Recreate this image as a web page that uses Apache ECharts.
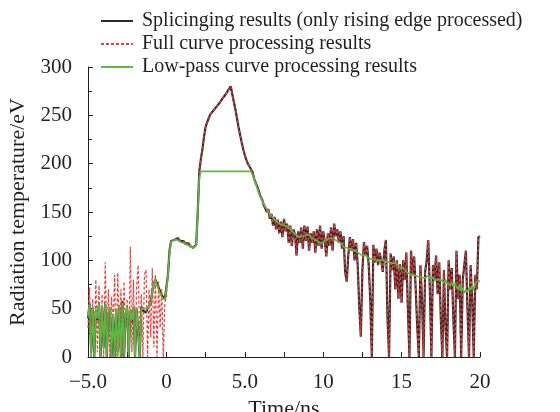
<!DOCTYPE html>
<html>
<head>
<meta charset="utf-8">
<script src="https://cdn.jsdelivr.net/npm/echarts@6/dist/echarts.min.js"></script>
<style>
  html, body { margin: 0; padding: 0; background: #fff; }
  #chart { width: 560px; height: 412px; }
</style>
</head>
<body>
<div id="chart"></div>
<script>
// sample grid: every 0.1 ns from -5.0 ns
var tStart = -5.0;
var tStep = 0.1;

var seriesNames = [
    'Splicinging results (only rising edge processed)',
    'Full curve processing results',
    'Low-pass curve processing results'
];

// splicing result, -5.0 .. -0.1
var blackPre = [
    40, 55, 5, 50, 0, 48, 38, 55, 0, 52,
    10, 55, 0, 45, 50, 0, 42, 0, 48, 5,
    52, 0, 58, 0, 45, 50, 0, 48, 35, 52,
    0, 50, 48, 0, 52, 48, 50, 46, 50, 52,
    56, 68, 76, 80, 76, 72, 68, 64, 62, 60
];
// 0.0 .. 5.5 (rising edge and peak)
var blackRise = [
    62, 85, 110, 120, 122, 121, 119, 123, 121, 120,
    118, 120, 117, 116, 118, 115, 114, 113, 114, 116,
    150, 192, 205, 215, 228, 238, 243, 247, 251, 253,
    255, 257, 259, 261, 263, 265, 268, 270, 272, 275,
    277, 280, 272, 264, 256, 247, 238, 230, 222, 215,
    209, 204, 200, 197, 194, 191
];
// 5.6 .. 20.0
var blackTail = [
    184, 180, 176, 171, 166, 163, 158, 156, 150, 153,
    143, 148, 136, 145, 132, 142, 128, 140, 124, 143,
    130, 138, 118, 136, 115, 132, 127, 105, 130, 118,
    134, 112, 136, 120, 135, 110, 128, 118, 130, 108,
    132, 115, 136, 112, 130, 120, 104, 128, 115, 134,
    110, 138, 125, 132, 118, 130, 112, 125, 88, 78,
    105, 124, 110, 122, 100, 118, 95, 52, 21, 90,
    119, 105, 115, 96, 60, 0, 116, 98, 112, 95,
    108, 100, 88, 110, 121, 40, 0, 107, 90, 104,
    70, 100, 60, 96, 56, 100, 80, 108, 50, 0,
    110, 85, 104, 70, 30, 0, 95, 60, 0, 88,
    100, 121, 70, 0, 95, 80, 105, 65, 98, 40,
    0, 90, 30, 0, 100, 70, 92, 40, 0, 110,
    60, 85, 0, 80, 95, 110, 50, 0, 95, 60,
    0, 85, 70, 124, 125
];

// full curve result before 0 ns; after that it follows the splicing result
var redPre = [
    30, 72, 0, 60, 10, 80, 5, 74, 20, 65,
    0, 98, 15, 70, 0, 62, 30, 85, 0, 87,
    10, 70, 0, 78, 25, 60, 0, 114, 5, 80,
    0, 72, 95, 10, 65, 0, 85, 90, 0, 70,
    20, 92, 10, 85, 0, 78, 30, 70, 0, 55
];

// low-pass result, -5.0 .. -0.1
var greenPre = [
    42, 55, 0, 52, 0, 50, 40, 56, 0, 54,
    8, 55, 0, 48, 52, 0, 45, 0, 50, 0,
    54, 0, 56, 0, 46, 52, 0, 50, 38, 52,
    0, 50, 49, 0, 50, 48, 50, 48, 50, 52,
    56, 68, 76, 80, 74, 70, 66, 62, 60, 59
];
// 0.0 .. 5.4
var greenMid = [
    60, 84, 108, 119, 121, 121, 120, 121, 120, 119,
    118, 118, 117, 116, 116, 115, 114, 113, 113, 115,
    150, 185, 192, 192, 192, 192, 192, 192, 192, 192,
    192, 192, 192, 192, 192, 192, 192, 192, 192, 192,
    192, 192, 192, 192, 192, 192, 192, 192, 192, 192,
    192, 192, 192, 192, 192
];
// 5.5 .. 20.0
var greenTail = [
    190, 184, 179, 174, 169, 165, 162, 159, 156, 153,
    150, 148, 146, 144, 142, 140, 139, 138, 137, 137,
    136, 135, 135, 134, 132, 130, 129, 128, 126, 125,
    124, 124, 125, 126, 126, 126, 126, 125, 123, 122,
    121, 120, 119, 118, 118, 119, 120, 121, 122, 123,
    123, 123, 122, 121, 120, 119, 118, 116, 114, 113,
    113, 112, 112, 111, 111, 110, 109, 108, 107, 106,
    105, 104, 106, 103, 104, 102, 103, 101, 102, 100,
    101, 100, 99, 100, 99, 98, 100, 98, 99, 97,
    96, 97, 95, 94, 93, 92, 90, 91, 88, 89,
    86, 88, 85, 86, 84, 85, 83, 84, 82, 83,
    82, 80, 84, 81, 80, 82, 79, 81, 80, 78,
    80, 79, 77, 80, 76, 78, 74, 77, 73, 76,
    74, 70, 75, 68, 72, 66, 70, 67, 72, 69,
    74, 70, 76, 74, 79, 78
];

var xTicks = { min: -5, max: 20, interval: 5 };
var yTicks = { min: 0, max: 300, interval: 50 };

var blackValues = blackPre.concat(blackRise, blackTail);
var redValues = redPre.concat(blackRise, blackTail);
var greenValues = greenPre.concat(greenMid, greenTail);

function toPoints(values) {
    return values.map(function (v, i) {
        return [+(tStart + i * tStep).toFixed(1), v];
    });
}

var font = '"Liberation Serif", "Times New Roman", serif';
var ink = '#231f20';

var chart = echarts.init(document.getElementById('chart'), null, { renderer: 'canvas' });

var option = {
    animation: false,
    backgroundColor: '#fff',
    textStyle: { fontFamily: font, color: ink },
    legend: {
        orient: 'vertical',
        left: 95,
        top: 6,
        itemWidth: 32,
        itemHeight: 14,
        itemGap: 3,
        data: seriesNames,
        itemStyle: { opacity: 0 },
        textStyle: { fontFamily: font, fontSize: 20, color: ink, lineHeight: 20, padding: [0, 0, 0, 4] }
    },
    grid: { left: 88, right: 80, top: 67, bottom: 55, outerBoundsMode: 'none' },
    xAxis: {
        type: 'value',
        min: xTicks.min,
        max: xTicks.max,
        interval: xTicks.interval,
        name: 'Time/ns',
        nameLocation: 'middle',
        nameGap: 40,
        nameTextStyle: { fontFamily: font, fontSize: 22, color: ink },
        axisLine: { show: true, onZero: false, lineStyle: { color: ink, width: 1 } },
        axisTick: { show: true, inside: true, length: 5, lineStyle: { color: ink } },
        minorTick: { show: true, splitNumber: 2, length: 5, lineStyle: { color: ink } },
        splitLine: { show: false },
        axisLabel: {
            fontFamily: font, fontSize: 21, color: ink, margin: 15,
            formatter: function (v) {
                if (v === -5) return '\u22125.0';
                if (v === 5) return '5.0';
                return String(v);
            }
        }
    },
    yAxis: {
        type: 'value',
        min: yTicks.min,
        max: yTicks.max,
        interval: yTicks.interval,
        name: 'Radiation temperature/eV',
        nameLocation: 'middle',
        nameGap: 54,
        nameTextStyle: { fontFamily: font, fontSize: 22, color: ink },
        axisLine: { show: true, onZero: false, lineStyle: { color: ink, width: 1 } },
        axisTick: { show: true, inside: true, length: 5, lineStyle: { color: ink } },
        minorTick: { show: true, splitNumber: 2, length: 4, lineStyle: { color: ink } },
        splitLine: { show: false },
        axisLabel: { fontFamily: font, fontSize: 21, color: ink, margin: 16 }
    },
    series: [
        {
            name: seriesNames[0],
            type: 'line',
            symbol: 'none',
            data: toPoints(blackValues),
            lineStyle: { color: '#2b2b2b', width: 2.2 },
            itemStyle: { color: '#2b2b2b' },
            z: 1
        },
        {
            name: seriesNames[1],
            type: 'line',
            symbol: 'none',
            data: toPoints(redValues),
            lineStyle: { color: '#ef3b3b', width: 1.2, type: [3, 2] },
            itemStyle: { color: '#ef3b3b' },
            z: 2
        },
        {
            name: seriesNames[2],
            type: 'line',
            symbol: 'none',
            data: toPoints(greenValues),
            lineStyle: { color: '#5db843', width: 1.6 },
            itemStyle: { color: '#5db843' },
            z: 3
        }
    ]
};

chart.setOption(option);
</script>
</body>
</html>
